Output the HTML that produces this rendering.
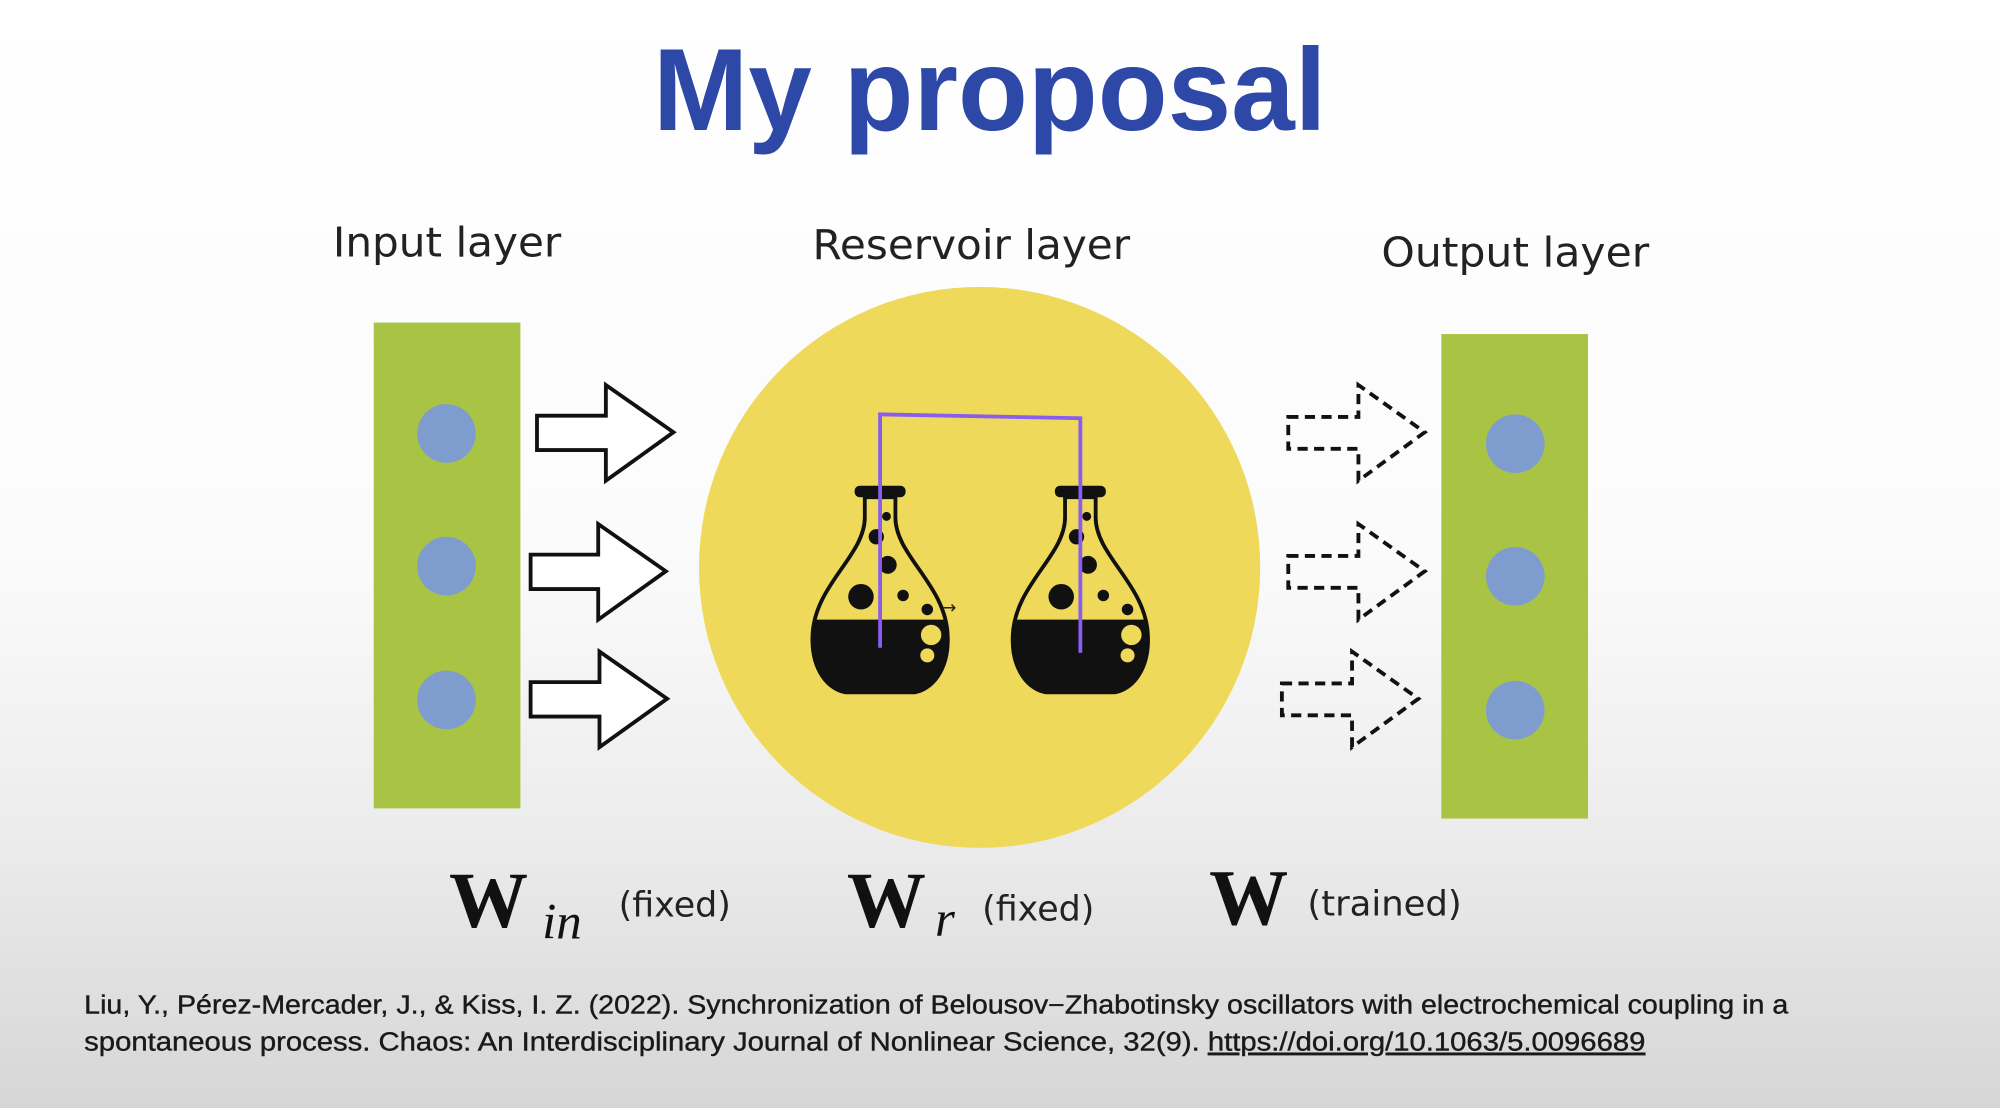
<!DOCTYPE html>
<html><head><meta charset="utf-8"><style>
html,body{margin:0;padding:0;width:2000px;height:1108px;overflow:hidden}
svg{display:block}
</style></head><body>
<svg width="2000" height="1108" viewBox="0 0 1568 869" preserveAspectRatio="none" xmlns="http://www.w3.org/2000/svg">
<defs>
<linearGradient id="bg" x1="0" y1="0" x2="0" y2="1">
<stop offset="0" stop-color="#ffffff"/>
<stop offset="0.5" stop-color="#fbfbfb"/>
<stop offset="0.75" stop-color="#ececec"/>
<stop offset="1" stop-color="#d6d6d6"/>
</linearGradient>
<clipPath id="liq"><rect x="-60" y="105" width="120" height="60"/></clipPath>
<g id="flask">
<rect x="-20" y="0" width="40" height="9" rx="4" fill="#111"/>
<path d="M -12 9 L -12 25 C -12 55 -52 78 -53 118 C -54 145 -40 160 -27 162 L 27 162 C 40 160 54 145 53 118 C 52 78 12 55 12 25 L 12 9 Z" fill="none" stroke="#111" stroke-width="3"/>
<path clip-path="url(#liq)" d="M -12 9 L -12 25 C -12 55 -52 78 -53 118 C -54 145 -40 160 -27 162 L 27 162 C 40 160 54 145 53 118 C 52 78 12 55 12 25 L 12 9 Z" fill="#111"/>
<circle cx="5" cy="24" r="3.5" fill="#111"/>
<circle cx="-3" cy="40" r="6" fill="#111"/>
<circle cx="6" cy="62" r="7" fill="#111"/>
<circle cx="-15" cy="87" r="10" fill="#111"/>
<circle cx="18" cy="86" r="4.5" fill="#111"/>
<circle cx="37" cy="97" r="4.5" fill="#111"/>
<circle cx="40" cy="117" r="8" fill="#eed95a"/>
<circle cx="37" cy="133" r="5.5" fill="#eed95a"/>
</g>
</defs>
<rect width="1568" height="869" fill="url(#bg)"/>
<text x="512" y="102" font-family="Liberation Sans, sans-serif" font-weight="bold" font-size="92" fill="#2d48a6" textLength="528" lengthAdjust="spacingAndGlyphs">My proposal</text>

<g font-family="DejaVu Sans, Liberation Sans, sans-serif" font-size="32" fill="#222">
<text x="261" y="201" textLength="179" lengthAdjust="spacingAndGlyphs">Input layer</text>
<text x="637" y="203" textLength="249" lengthAdjust="spacingAndGlyphs">Reservoir layer</text>
<text x="1083" y="209" textLength="210" lengthAdjust="spacingAndGlyphs">Output layer</text>
</g>

<rect x="293" y="253" width="115" height="381" fill="#a9c445"/>
<circle cx="350" cy="340" r="23" fill="#7f9ccf"/>
<circle cx="350" cy="444" r="23" fill="#7f9ccf"/>
<circle cx="350" cy="549" r="23" fill="#7f9ccf"/>
<rect x="1130" y="262" width="115" height="380" fill="#a9c445"/>
<circle cx="1188" cy="348" r="23" fill="#7f9ccf"/>
<circle cx="1188" cy="452" r="23" fill="#7f9ccf"/>
<circle cx="1188" cy="557" r="23" fill="#7f9ccf"/>

<circle cx="768" cy="445" r="220" fill="#eed95a"/>

<g fill="#fff" stroke="#111" stroke-width="3" stroke-linejoin="miter">
<path d="M421 326 L475 326 L475 302 L528 339 L475 377 L475 353 L421 353 Z"/>
<path d="M416 435 L469 435 L469 411 L522 448 L469 486 L469 462 L416 462 Z"/>
<path d="M416 535 L470 535 L470 511 L523 548 L470 586 L470 562 L416 562 Z"/>
</g>
<g fill="none" stroke="#111" stroke-width="3" stroke-dasharray="8,5">
<path d="M1010 327 L1065 327 L1065 302 L1117 339 L1065 377 L1065 352 L1010 352 Z"/>
<path d="M1010 436 L1065 436 L1065 411 L1117 448 L1065 486 L1065 461 L1010 461 Z"/>
<path d="M1005 536 L1060 536 L1060 511 L1112 548 L1060 586 L1060 561 L1005 561 Z"/>
</g>

<use href="#flask" x="690" y="381"/>
<use href="#flask" x="847" y="381"/>
<path d="M690 508 L690 325 L847 328 L847 512" fill="none" stroke="#8a5cf0" stroke-width="3"/>
<text x="738" y="481" font-family="DejaVu Sans, sans-serif" font-size="14" fill="#222">→</text>

<g font-family="Liberation Serif, serif" fill="#111">
<text x="352" y="727" font-size="62" font-weight="bold">W</text>
<text x="425" y="736" font-size="40" font-style="italic">in</text>
<text x="664" y="727" font-size="62" font-weight="bold">W</text>
<text x="733" y="734" font-size="40" font-style="italic">r</text>
<text x="948" y="725" font-size="62" font-weight="bold">W</text>
</g>
<g font-family="DejaVu Sans, Liberation Sans, sans-serif" font-size="27" fill="#222">
<text x="485" y="719" textLength="88" lengthAdjust="spacingAndGlyphs">(fixed)</text>
<text x="770" y="722" textLength="88" lengthAdjust="spacingAndGlyphs">(fixed)</text>
<text x="1025" y="718" textLength="121" lengthAdjust="spacingAndGlyphs">(trained)</text>
</g>

<g font-family="Liberation Sans, sans-serif" font-size="20" fill="#1a1a1a" stroke="#1a1a1a" stroke-width="0.3">
<text x="66" y="795" textLength="1336" lengthAdjust="spacingAndGlyphs">Liu, Y., Pérez-Mercader, J., &amp; Kiss, I. Z. (2022). Synchronization of Belousov−Zhabotinsky oscillators with electrochemical coupling in a</text>
<text x="66" y="824" textLength="1224" lengthAdjust="spacingAndGlyphs">spontaneous process. Chaos: An Interdisciplinary Journal of Nonlinear Science, 32(9). <tspan text-decoration="underline">https://doi.org/10.1063/5.0096689</tspan></text>
</g>
</svg>
</body></html>
